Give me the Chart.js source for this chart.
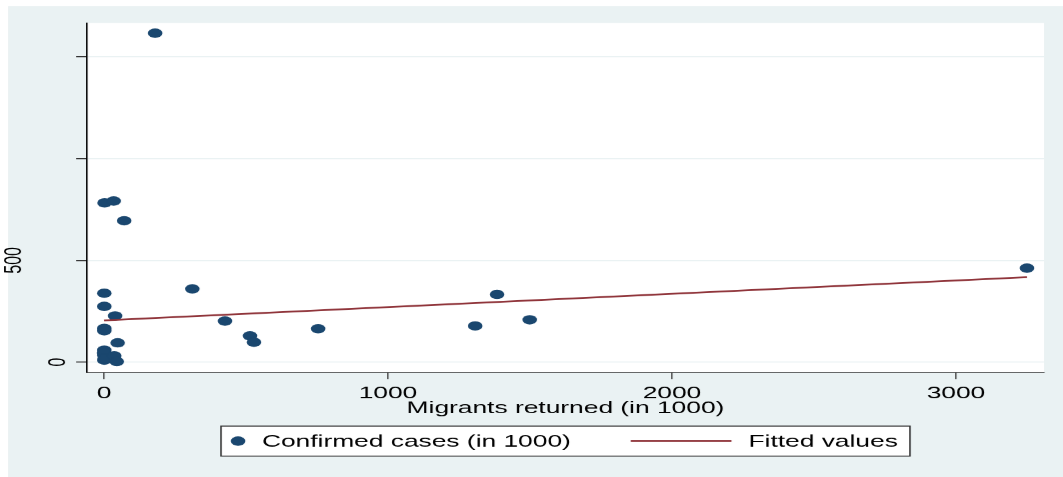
<!DOCTYPE html>
<html>
<head>
<meta charset="utf-8">
<script src="https://cdn.jsdelivr.net/npm/chart.js@4"></script>
<style>
  body { margin: 0; background: #fff; overflow: hidden; }
  /* the original graph is stretched sideways, so draw narrow and scale it out */
  #wrap { width: 686px; height: 477px; transform: scaleX(1.5496); transform-origin: 0 0; }
</style>
</head>
<body>
<div id="wrap"><canvas id="chart" width="686" height="477"></canvas></div>
<script>
// Data
const migrants = [180, 2, 34, 71, 1, 1, 39, 1, 1, 48, 1, 1, 1, 0, 3, 36, 45, 311, 426, 514, 528, 754, 1307, 1384, 1499, 3250];
const cases    = [1617, 783, 792, 695, 339, 274, 227, 166, 154, 95, 59, 34, 10, 45, 18, 31, 3, 360, 202, 129, 98, 164, 178, 333, 208, 462];
const fitX = [0, 3250];
const fitY = [205, 418];
const xTicks = [0, 1000, 2000, 3000];
const yTicks = [0, 500, 1000, 1500];
const yLabelled = [0, 500];

const NAVY = '#1a476f';
const MAROON = '#90353b';
const BG = '#eaf2f3';
const FONT = 'Liberation Sans, Arial, sans-serif';

Chart.defaults.font.family = FONT;
Chart.defaults.color = '#000';

const scatterPoints = migrants.map((x, i) => ({ x: x, y: cases[i] }));
const fitPoints = fitX.map((x, i) => ({ x: x, y: fitY[i] }));

// Background: white border, light blue-grey graph region, white plot region
const backgroundPlugin = {
    id: 'background',
    beforeDraw(chart) {
        const ctx = chart.ctx;
        const a = chart.chartArea;
        ctx.save();
        ctx.fillStyle = '#fff';
        ctx.fillRect(0, 0, chart.width, chart.height);
        ctx.fillStyle = BG;
        ctx.fillRect(5.2, 6, chart.width, chart.height);
        ctx.fillStyle = '#fff';
        ctx.fillRect(a.left, a.top, a.right - a.left, a.bottom - a.top);
        ctx.restore();
    }
};

// Boxed legend under the axis title, like Stata's
const legendBoxPlugin = {
    id: 'legendBox',
    afterDraw(chart) {
        const ctx = chart.ctx;
        const ds = chart.data.datasets;
        const top = 426, bottom = 456, mid = 441;
        ctx.save();
        ctx.fillStyle = '#fff';
        ctx.fillRect(142.6, top, 444.6, bottom - top);
        ctx.strokeStyle = '#333';
        ctx.lineWidth = 1;
        ctx.strokeRect(142.6, top, 444.6, bottom - top);

        ctx.fillStyle = ds[0].backgroundColor;
        ctx.beginPath();
        ctx.arc(153.6, mid, 4.7, 0, Math.PI * 2);
        ctx.fill();

        ctx.strokeStyle = ds[1].borderColor;
        ctx.lineWidth = ds[1].borderWidth;
        ctx.beginPath();
        ctx.moveTo(407, mid);
        ctx.lineTo(472, mid);
        ctx.stroke();

        ctx.fillStyle = '#000';
        ctx.font = '17px ' + FONT;
        ctx.textBaseline = 'middle';
        ctx.fillText(ds[0].label, 169, mid + 1);
        ctx.fillText(ds[1].label, 483, mid + 1);
        ctx.restore();
    }
};

new Chart(document.getElementById('chart'), {
    type: 'scatter',
    data: {
        datasets: [
            {
                label: 'Confirmed cases (in 1000)',
                data: scatterPoints,
                pointRadius: 4.7,
                pointHoverRadius: 4.7,
                backgroundColor: NAVY,
                borderWidth: 0,
                order: 1
            },
            {
                type: 'line',
                label: 'Fitted values',
                data: fitPoints,
                borderColor: MAROON,
                borderWidth: 1.8,
                pointRadius: 0,
                fill: false,
                order: 0
            }
        ]
    },
    options: {
        responsive: false,
        animation: false,
        devicePixelRatio: 1.5496,
        layout: { padding: { left: 0, top: 23, right: 12.3, bottom: 0 } },
        plugins: {
            legend: { display: false },
            tooltip: { enabled: false }
        },
        scales: {
            x: {
                type: 'linear',
                min: -60,
                max: 3310,
                afterBuildTicks: scale => { scale.ticks = xTicks.map(v => ({ value: v })); },
                afterFit: scale => { scale.height = 105; },
                ticks: {
                    font: { size: 17 },
                    padding: 4,
                    maxRotation: 0,
                    callback: v => v
                },
                grid: {
                    drawOnChartArea: false,
                    drawTicks: true,
                    tickLength: 7,
                    tickColor: '#555'
                },
                border: { display: true, color: '#333', width: 1 },
                title: {
                    display: true,
                    text: 'Migrants returned (in 1000)',
                    font: { size: 17 },
                    padding: { top: 0, bottom: 58.8 }
                }
            },
            y: {
                type: 'linear',
                min: -49,
                max: 1667,
                afterBuildTicks: scale => { scale.ticks = yTicks.map(v => ({ value: v })); },
                afterFit: scale => { scale.width = 56.1; },
                ticks: {
                    font: { size: 16 },
                    minRotation: 90,
                    maxRotation: 90,
                    crossAlign: 'center',
                    padding: -2,
                    // the wider label sits further out in the original, pad it with blank lines
                    callback: v => {
                        if (!yLabelled.includes(v)) return '';
                        return v === 0 ? '0' : [String(v), '', '', ''];
                    }
                },
                grid: {
                    color: BG,
                    lineWidth: 1,
                    drawTicks: true,
                    tickLength: 7,
                    tickColor: '#333'
                },
                border: { display: true, color: '#000', width: 1 }
            }
        }
    },
    plugins: [backgroundPlugin, legendBoxPlugin]
});
</script>
</body>
</html>
